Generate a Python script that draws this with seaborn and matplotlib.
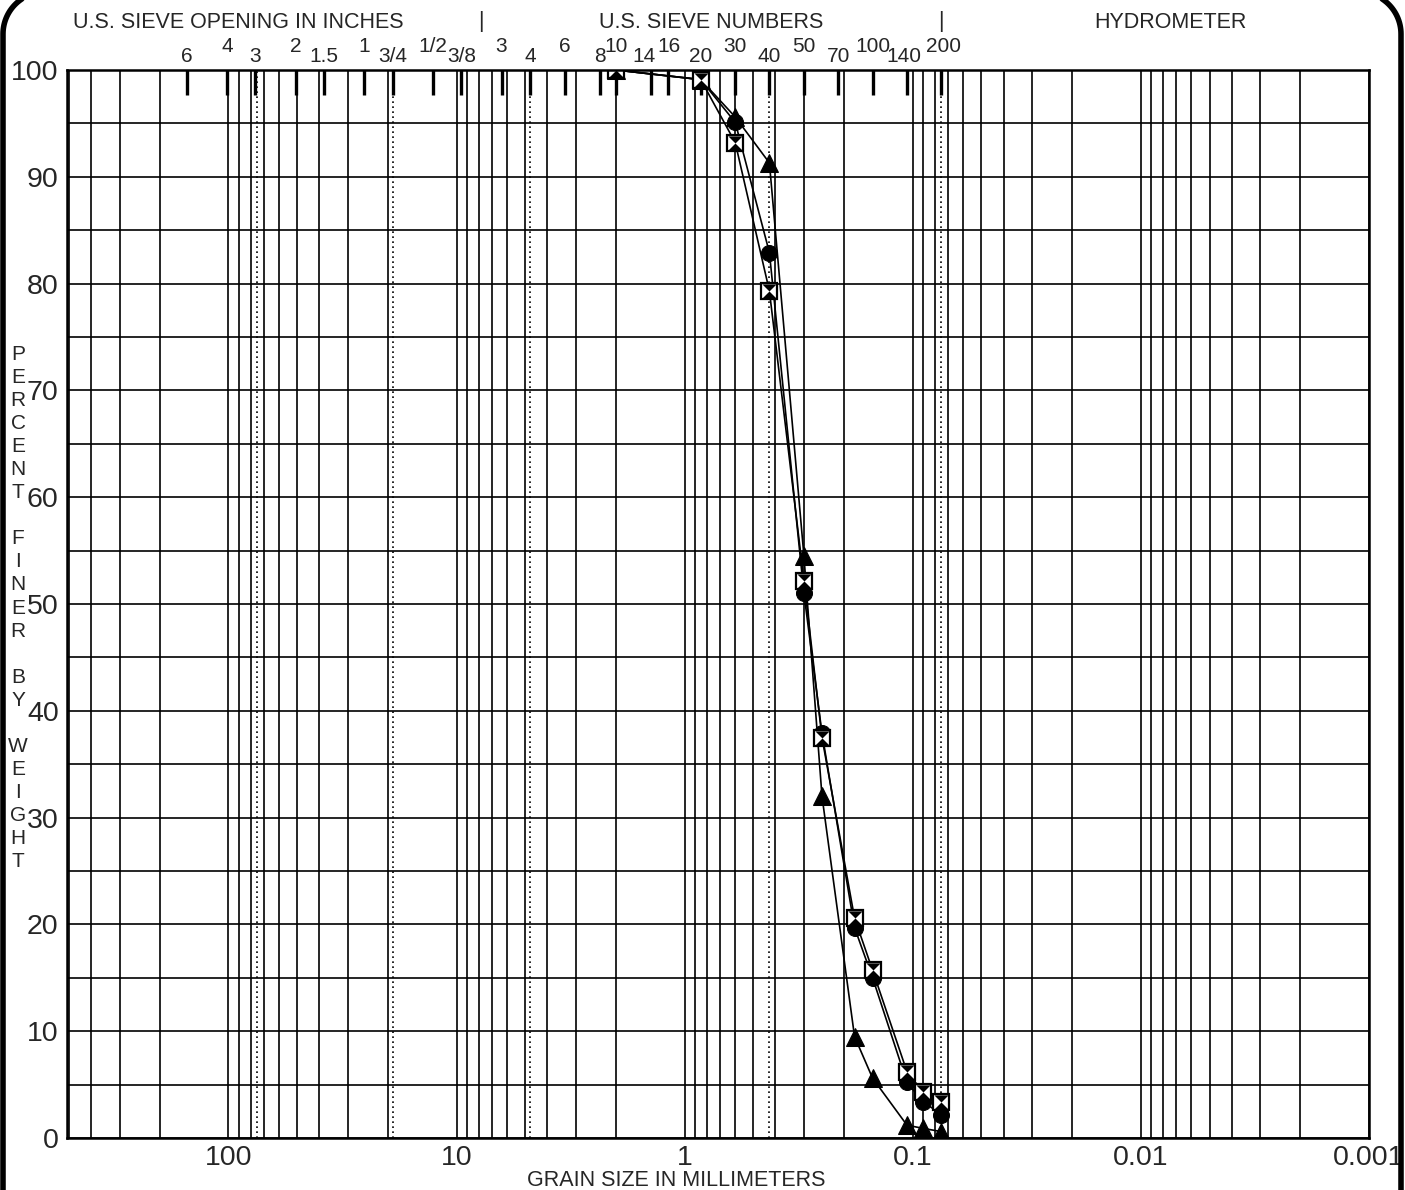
import numpy as np
import pandas as pd
import matplotlib
matplotlib.use('Agg')
import matplotlib.pyplot as plt
import matplotlib.ticker as mticker
import matplotlib.transforms as mtransforms
from matplotlib.lines import Line2D
import seaborn as sns

# ---------------- data ----------------
sieve_mm = [2.0, 0.85, 0.6, 0.425, 0.3, 0.25, 0.18, 0.15, 0.106, 0.09, 0.075]
pct_circle = [100, 99.1, 95.1, 82.9, 51.0, 37.9, 19.7, 15.0, 5.2, 3.4, 2.2]
pct_triangle = [100, 99.1, 95.6, 91.3, 54.5, 32.0, 9.5, 5.6, 1.2, 0.9, 0.6]
pct_square = [100, 99.1, 93.2, 79.3, 52.2, 37.5, 20.6, 15.7, 6.2, 4.3, 3.4]

inch_labels = ['6', '4', '3', '2', '1.5', '1', '3/4', '1/2', '3/8']
inch_mm = [152.4, 101.6, 76.2, 50.8, 38.1, 25.4, 19.05, 12.7, 9.525]
number_labels = ['3', '4', '6', '8', '10', '14', '16', '20', '30', '40', '50',
                 '70', '100', '140', '200']
number_mm = [6.35, 4.75, 3.35, 2.36, 2.0, 1.4, 1.18, 0.85, 0.6, 0.425, 0.3,
             0.212, 0.15, 0.106, 0.075]
boundary_mm = [75, 19, 4.75, 0.425, 0.075]
x_major = [100, 10, 1, 0.1, 0.01, 0.001]
x_major_labels = ['100', '10', '1', '0.1', '0.01', '0.001']
y_major = list(range(0, 101, 10))

# ---------------- style ----------------
sns.set_style('white')
plt.rcParams['font.family'] = ['Liberation Sans', 'DejaVu Sans']

W, H = 1405, 1190
fig = plt.figure(figsize=(W / 100, H / 100), dpi=100)
ax = fig.add_axes([67 / W, 1 - 1138 / H, (1369 - 67) / W, (1138 - 70) / H])

ax.set_xscale('log')
ax.set_xlim(510, 0.001)
ax.set_ylim(0, 100)

ax.xaxis.set_major_locator(mticker.FixedLocator(x_major))
ax.xaxis.set_major_formatter(mticker.FixedFormatter(x_major_labels))
ax.xaxis.set_minor_locator(mticker.LogLocator(base=10, subs=np.arange(2, 10), numticks=20))
ax.xaxis.set_minor_formatter(mticker.NullFormatter())
ax.yaxis.set_major_locator(mticker.FixedLocator(y_major))
ax.yaxis.set_minor_locator(mticker.MultipleLocator(5))

ax.tick_params(axis='both', which='both', length=0)
ax.tick_params(axis='y', labelsize=20.5, pad=6)
ax.tick_params(axis='x', labelsize=20.5, pad=5)

ax.grid(True, which='both', color='black', linewidth=1.2)
ax.set_axisbelow(True)
for sp in ax.spines.values():
    sp.set_color('black')
    sp.set_linewidth(1.8)

# soil-class boundary dotted lines
for b in boundary_mm:
    ax.axvline(b, color='black', linestyle=(0, (1, 2)), linewidth=1.2, zorder=1.5)

# sieve ticks at top
all_mm = inch_mm + number_mm
all_lab = inch_labels + number_labels
ax.vlines(all_mm, 97.7, 100, color='black', linewidth=2.4, zorder=2)
nudge = {'14': -7, '16': 1, '140': -3, '200': 2}
for i, (d, lab) in enumerate(zip(all_mm, all_lab)):
    off = 14 if i % 2 == 0 else 23
    dx = nudge.get(lab, 0) if i >= len(inch_labels) else 0
    ax.annotate(lab, xy=(d, 100), xytext=(dx, off), textcoords='offset pixels',
                ha='center', va='center', fontsize=15, annotation_clip=False)

# ---------------- data series ----------------
kw = dict(color='black', linewidth=1.2, sort=False, estimator=None, ax=ax, legend=False)
sns.lineplot(x=sieve_mm, y=pct_triangle, marker='^', markersize=12.5,
             markeredgecolor='black', **kw)
sns.lineplot(x=sieve_mm, y=pct_circle, marker='o', markersize=11.5,
             markeredgecolor='black', **kw)
sns.lineplot(x=sieve_mm, y=pct_square, marker='s', markersize=11.5,
             markerfacecolor='white', markeredgecolor='black', markeredgewidth=1.6, **kw)
hourglass = [(-1, 1), (1, 1), (0, 0), (1, -1), (-1, -1), (0, 0), (-1, 1)]
sns.scatterplot(x=sieve_mm, y=pct_square, marker=hourglass, s=105, color='black',
                linewidth=0, ax=ax, legend=False, zorder=5)

ax.set_xlabel('')
ax.set_ylabel('')

# ---------------- header texts ----------------
ytop = 1 - 22 / H
fig.text(238 / W, ytop, 'U.S. SIEVE OPENING IN INCHES', ha='center', va='center', fontsize=15.5)
fig.text(711 / W, ytop, 'U.S. SIEVE NUMBERS', ha='center', va='center', fontsize=15.5)
fig.text(1170 / W, ytop, 'HYDROMETER', ha='center', va='center', fontsize=15.5)
blend = mtransforms.blended_transform_factory(ax.transData, fig.transFigure)
for xs in [7.8, 0.075]:
    fig.text(xs, ytop, '|', transform=blend, ha='center', va='center', fontsize=15.5)

fig.text(676 / W, 1 - 1180 / H, 'GRAIN SIZE IN MILLIMETERS', ha='center', va='center',
         fontsize=15.5)

ylab = '\n'.join(list('PERCENT') + [''] + list('FINER') + [''] + list('BY') + [''] + list('WEIGHT'))
fig.text(18 / W, 1 - 608 / H, ylab, ha='center', va='center', fontsize=15,
         linespacing=1.27, multialignment='center')

# rounded outer frame (inches, via dpi_scale_trans)
xl, xr, top, r = 0.03, 14.01, 11.98, 0.42
t1 = np.linspace(np.pi, np.pi / 2, 30)
t2 = np.linspace(np.pi / 2, 0, 30)
fx = np.concatenate([[xl], xl + r + r * np.cos(t1), xr - r + r * np.cos(t2), [xr]])
fy = np.concatenate([[-0.5], top - r + r * np.sin(t1), top - r + r * np.sin(t2), [-0.5]])
frame = Line2D(fx, fy, transform=fig.dpi_scale_trans, color='black', linewidth=4,
               solid_joinstyle='round', zorder=10, clip_on=False)
fig.add_artist(frame)

fig.savefig('out.png', dpi=100)
